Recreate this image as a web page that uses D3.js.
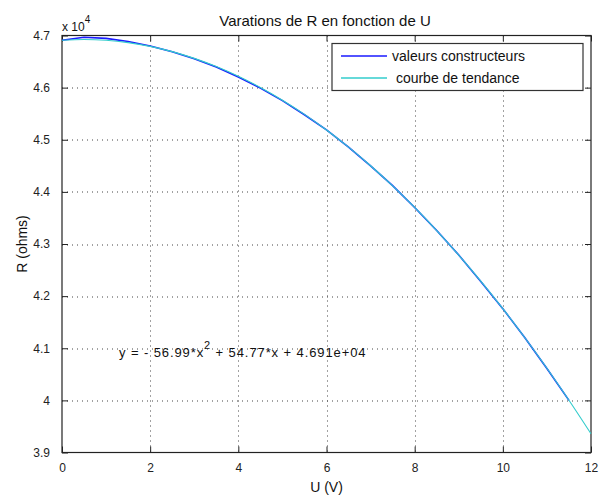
<!DOCTYPE html>
<html>
<head>
<meta charset="utf-8">
<script src="https://cdn.jsdelivr.net/npm/d3@7"></script>
<style>
  body { margin: 0; background: #fff; }
  svg { display: block; font-family: "Liberation Sans", Arial, Helvetica, sans-serif; }
</style>
</head>
<body>
<svg id="chart"></svg>
<script>
// ---------------------------------------------------------------------------
// DATA ----------------------------------------------------------------------
// ---------------------------------------------------------------------------

// Manufacturer values (U in volts, R in ohms)
var uData = [0, 0.5, 1, 1.5, 2, 2.5, 3, 3.5, 4, 4.5, 5, 5.5, 6, 6.5, 7, 7.5, 8, 8.5, 9, 9.5, 10, 10.5, 11, 11.5];
var rData = [46910, 46965, 46945, 46885, 46800, 46690, 46555, 46395, 46205, 45990, 45750, 45480,
             45190, 44860, 44500, 44120, 43700, 43260, 42790, 42280, 41760, 41200, 40610, 40000];

// Trend curve
var uTrend = [0, 0.5, 1, 1.5, 2, 2.5, 3, 3.5, 4, 4.5, 5, 5.5, 6, 6.5, 7, 7.5, 8, 8.5, 9, 9.5, 10, 10.5, 11, 11.5, 12];
var rTrend = [46910, 46923, 46908, 46864, 46792, 46691, 46561, 46404, 46217, 46002, 45759, 45487, 45187,
              44858, 44501, 44115, 43701, 43258, 42787, 42287, 41759, 41202, 40617, 40003, 39360];

var xTicks = [0, 2, 4, 6, 8, 10, 12];
var yTicks = [39000, 40000, 41000, 42000, 43000, 44000, 45000, 46000, 47000];
var yTickLabels = ["3.9", "4", "4.1", "4.2", "4.3", "4.4", "4.5", "4.6", "4.7"];

var seriesNames = ["valeurs constructeurs", " courbe de tendance"];
var seriesColors = ["#1a1aff", "#33cccc"];

var titleText = "Varations de R en fonction de U";
var xLabel = "U (V)";
var yLabel = "R (ohms)";
var equationText = ["y = - 56.99*x", "2", " + 54.77*x + 4.691e+04"];

// ---------------------------------------------------------------------------
// LAYOUT --------------------------------------------------------------------
// ---------------------------------------------------------------------------
var width = 603, height = 496;
var margin = {top: 35.5, right: 12, bottom: 43.5, left: 62};
var plotW = width - margin.left - margin.right,
    plotH = height - margin.top - margin.bottom;

var svg = d3.select("#chart")
  .attr("width", width)
  .attr("height", height);

var x = d3.scaleLinear().domain([0, 12]).range([0, plotW]);
var y = d3.scaleLinear().domain([39000, 47000]).range([plotH, 0]);

var g = svg.append("g")
  .attr("transform", "translate(" + margin.left + "," + margin.top + ")");

// Grid lines (dotted)
var grid = g.append("g").attr("class", "grid");
grid.selectAll(".gx")
  .data(xTicks.slice(1, -1))
  .enter().append("line")
    .attr("x1", function(d) { return Math.round(x(d)) + 0.5; })
    .attr("x2", function(d) { return Math.round(x(d)) + 0.5; })
    .attr("y1", 0).attr("y2", plotH);
grid.selectAll(".gy")
  .data(yTicks.slice(1, -1))
  .enter().append("line")
    .attr("y1", function(d) { return Math.round(y(d)) + 0.5; })
    .attr("y2", function(d) { return Math.round(y(d)) + 0.5; })
    .attr("x1", 0).attr("x2", plotW);
grid.selectAll("line")
  .attr("stroke", "#444")
  .attr("stroke-width", 1)
  .attr("stroke-dasharray", "1,4");

// Axes (inner ticks on every side, like matlab)
var tickLen = 6;
var axisBottom = d3.axisBottom(x).tickValues(xTicks).tickSizeInner(-tickLen).tickSizeOuter(0).tickPadding(tickLen + 5);
var axisTop = d3.axisTop(x).tickValues(xTicks).tickSizeInner(-tickLen).tickSizeOuter(0).tickFormat("");
var axisLeft = d3.axisLeft(y).tickValues(yTicks).tickSizeInner(-tickLen).tickSizeOuter(0).tickPadding(tickLen + 6)
  .tickFormat(function(d, i) { return yTickLabels[i]; });
var axisRight = d3.axisRight(y).tickValues(yTicks).tickSizeInner(-tickLen).tickSizeOuter(0).tickFormat("");

g.append("g").attr("transform", "translate(0," + plotH + ")").call(axisBottom);
g.append("g").call(axisTop);
g.append("g").call(axisLeft);
g.append("g").attr("transform", "translate(" + plotW + ",0)").call(axisRight);

g.selectAll(".domain").remove();
g.selectAll(".tick line").attr("stroke", "#222");
g.selectAll(".tick text")
  .attr("fill", "#222")
  .style("font-size", "12px")
  .style("font-family", "'Liberation Sans', Arial, sans-serif");

// Box
g.append("rect")
  .attr("x", 0).attr("y", 0)
  .attr("width", plotW).attr("height", plotH)
  .attr("fill", "none")
  .attr("stroke", "#222")
  .attr("stroke-width", 1.2);

// Curves
var line = d3.line()
  .x(function(d) { return x(d[0]); })
  .y(function(d) { return y(d[1]); });

g.append("path")
  .datum(d3.zip(uData, rData))
  .attr("d", line)
  .attr("fill", "none")
  .attr("stroke", seriesColors[0])
  .attr("stroke-width", 1.6);

g.append("path")
  .datum(d3.zip(uTrend, rTrend))
  .attr("d", line.curve(d3.curveMonotoneX))
  .attr("fill", "none")
  .attr("stroke", seriesColors[1])
  .attr("stroke-width", 1.1);

// Equation annotation
var eq = g.append("text")
  .attr("x", 57)
  .attr("y", 321)
  .attr("fill", "#111")
  .style("font-size", "13px")
  .style("letter-spacing", "0.9px");
eq.append("tspan").text(equationText[0]);
eq.append("tspan").attr("dy", -8).style("font-size", "11px").text(equationText[1]);
eq.append("tspan").attr("dy", 8).text(equationText[2]);

// Legend
var legend = g.append("g").attr("transform", "translate(270,8)");
legend.append("rect")
  .attr("width", 251).attr("height", 47)
  .attr("fill", "#fff")
  .attr("stroke", "#333")
  .attr("stroke-width", 1.2);
seriesNames.forEach(function(name, i) {
  var ly = 12.5 + i * 22;
  legend.append("line")
    .attr("x1", 9).attr("x2", 55)
    .attr("y1", ly).attr("y2", ly)
    .attr("stroke", seriesColors[i])
    .attr("stroke-width", 1.5);
  legend.append("text")
    .attr("x", 60)
    .attr("y", ly + 5)
    .attr("fill", "#111")
    .style("font-size", "14px")
    .style("white-space", "pre")
    .attr("xml:space", "preserve")
    .text(name);
});

// Title and labels
svg.append("text")
  .attr("x", 325).attr("y", 26)
  .attr("text-anchor", "middle")
  .attr("fill", "#111")
  .style("font-size", "15px")
  .text(titleText);

svg.append("text")
  .attr("x", margin.left + plotW / 2).attr("y", 492)
  .attr("text-anchor", "middle")
  .attr("fill", "#111")
  .style("font-size", "14px")
  .text(xLabel);

svg.append("text")
  .attr("transform", "translate(27," + (margin.top + plotH / 2) + ") rotate(-90)")
  .attr("text-anchor", "middle")
  .attr("fill", "#111")
  .style("font-size", "14px")
  .text(yLabel);

// Exponent above the y axis
var expo = svg.append("text")
  .attr("x", 62).attr("y", 31)
  .attr("fill", "#111")
  .style("font-size", "12px");
expo.append("tspan").text("x 10");
expo.append("tspan").attr("dy", -8).style("font-size", "10px").text("4");
</script>
</body>
</html>
